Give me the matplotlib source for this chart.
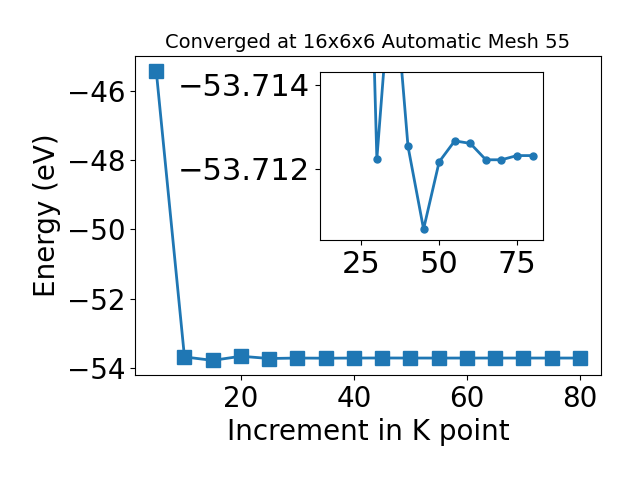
import numpy as np
import matplotlib.pyplot as plt

# k-point increments and total energies
kpoints = [5, 10, 15, 20, 25, 30, 35, 40, 45, 50, 55, 60, 65, 70, 75, 80]
energy = [-45.42, -53.68, -53.78, -53.66, -53.7257, -53.71223, -53.7170, -53.71253,
          -53.71056, -53.71216, -53.71266, -53.71260, -53.71221, -53.71221,
          -53.71231, -53.71231]


def main():
    fig = plt.figure(figsize=(6.4, 4.8), dpi=100)
    ax = fig.add_axes([0.211, 0.219, 0.728, 0.664])
    ax.plot(kpoints, energy, marker='s', markersize=10, linewidth=2, color='#1f77b4')
    ax.set_xlabel('Increment in K point', fontsize=20)
    ax.set_ylabel('Energy (eV)', fontsize=20)
    ax.set_title('Converged at 16x6x6 Automatic Mesh 55', fontsize=14)
    ax.tick_params(labelsize=20)
    ax.set_yticks([-54, -52, -50, -48, -46])

    # zoomed inset
    ins = fig.add_axes([0.5, 0.5, 0.348, 0.35])
    ins.plot(kpoints[4:], energy[4:], marker='o', markersize=5, linewidth=2, color='#1f77b4')
    ins.set_xlim(11.75, 83.25)
    ins.set_ylim(-53.7103, -53.7143)
    ins.set_yticks([-53.714, -53.712])
    ins.ticklabel_format(axis='y', useOffset=False)
    ins.tick_params(labelsize=22)

    plt.savefig('out.png', dpi=100)
    plt.close()


if __name__ == "__main__":
    main()
